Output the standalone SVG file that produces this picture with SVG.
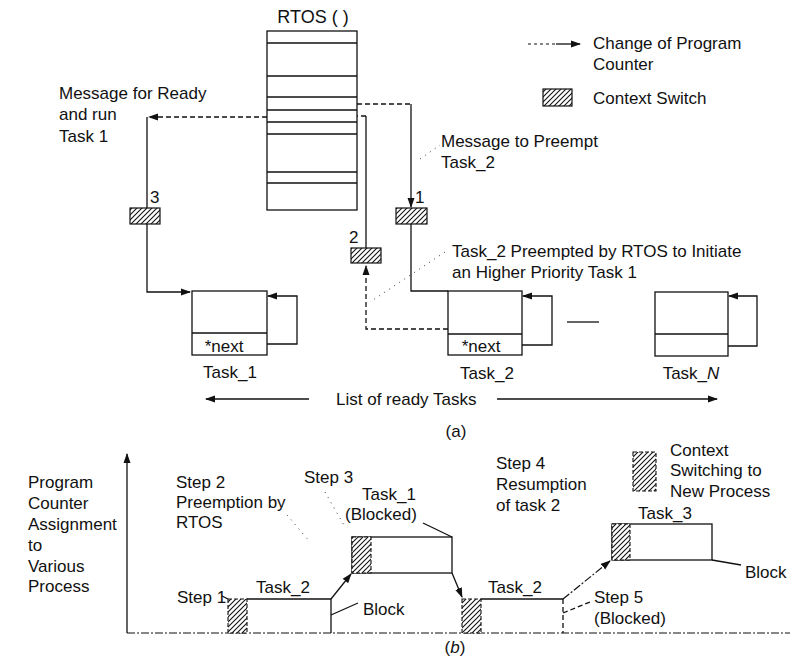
<svg xmlns="http://www.w3.org/2000/svg" width="790" height="664" viewBox="0 0 790 664">
<defs>
<pattern id="hatch" patternUnits="userSpaceOnUse" width="5" height="5">
<rect width="5" height="5" fill="#fff"/>
<path d="M-1,1 l2,-2 M0,5 l5,-5 M4,6 l2,-2" stroke="#111" stroke-width="1.1"/>
</pattern>
<marker id="arr" markerWidth="10" markerHeight="8" refX="9" refY="4" orient="auto" markerUnits="userSpaceOnUse">
<path d="M0,0.5 L10,4 L0,7.5 z" fill="#111"/>
</marker>
<style>
text{font-family:"Liberation Sans",Arial,sans-serif;font-size:17px;fill:#111}
.ln{fill:none;stroke:#111;stroke-width:1.3}
.dash{fill:none;stroke:#111;stroke-width:1.3;stroke-dasharray:5 3}
.ldash{fill:none;stroke:#111;stroke-width:1.1;stroke-dasharray:3 3}
.dot{fill:none;stroke:#333;stroke-width:1;stroke-dasharray:1 5}
.dd{fill:none;stroke:#111;stroke-width:1.2;stroke-dasharray:8 2 2 2}
.box{fill:#fff;stroke:#111;stroke-width:1.3}
.cs{fill:url(#hatch);stroke:#111;stroke-width:1.2}
.csd{fill:url(#hatch);stroke:#111;stroke-width:1.1;stroke-dasharray:4 2}
</style>
</defs>
<rect width="790" height="664" fill="#fff"/>

<g id="rtos">
<text x="313" y="23" text-anchor="middle" style="font-size:18px">RTOS ( )</text>
<rect class="box" x="267" y="31" width="90" height="179"/>
<path class="ln" d="M267,43H357M267,76H357M267,97H357M267,110H357M267,122H357M267,134H357M267,172H357M267,183H357"/>
</g>

<g id="legend-a">
<path class="ldash" d="M528,44H556"/>
<path class="ln" d="M556,44H580" marker-end="url(#arr)"/>
<text x="593" y="49">Change of Program</text>
<text x="593" y="70">Counter</text>
<rect class="cs" x="543" y="89" width="29" height="17"/>
<text x="593" y="104">Context Switch</text>
</g>

<g id="cs3">
<rect class="cs" x="130" y="208" width="30" height="16"/>
<text x="150" y="203">3</text>
</g>
<g id="cs1">
<rect class="cs" x="396" y="208" width="31" height="16"/>
<text x="415" y="203">1</text>
</g>
<g id="cs2">
<rect class="cs" x="351" y="248" width="30" height="15"/>
<text x="349" y="243">2</text>
</g>

<g id="task1">
<rect class="box" x="192" y="291" width="75" height="64"/>
<path class="ln" d="M192,333H267"/>
<text x="224" y="352" text-anchor="middle">*next</text>
<path class="ln" d="M267,344H297V296H268" marker-end="url(#arr)"/>
<text x="230" y="378" text-anchor="middle">Task_1</text>
</g>

<g id="task2">
<rect class="box" x="448" y="291" width="74" height="64"/>
<path class="ln" d="M448,334H522"/>
<text x="481" y="352" text-anchor="middle">*next</text>
<path class="ln" d="M522,345H552V296H523" marker-end="url(#arr)"/>
<text x="487" y="379" text-anchor="middle">Task_2</text>
</g>

<g id="taskN">
<rect class="box" x="655" y="292" width="73" height="64"/>
<path class="ln" d="M655,334H728"/>
<path class="ln" d="M728,346H757V296H729" marker-end="url(#arr)"/>
<text x="691" y="379" text-anchor="middle">Task_<tspan font-style="italic">N</tspan></text>
</g>

<g id="labels-a">
<text x="59" y="99">Message for Ready</text>
<text x="59" y="120">and run</text>
<text x="59" y="142">Task 1</text>
<text x="441" y="147">Message to Preempt</text>
<text x="441" y="168">Task_2</text>
<text x="452" y="257">Task_2 Preempted by RTOS to Initiate</text>
<text x="452" y="278">an Higher Priority Task 1</text>
<path class="ln" d="M567,322H599"/>
<text x="336" y="405">List of ready Tasks</text>
<text x="456" y="437" text-anchor="middle">(a)</text>
</g>

<g id="connectors">
<path class="dash" d="M267,117H149" marker-end="url(#arr)"/>
<path class="ln" d="M147,117V208M147,224V292H190" marker-end="url(#arr)"/>
<path class="dash" d="M357,104H411"/>
<path class="ln" d="M411,104V207" marker-end="url(#arr)"/>
<path class="ln" d="M411,224V291H448"/>
<path class="dash" d="M448,329H366V266" marker-end="url(#arr)"/>
<path class="ln" d="M366,248V116"/>
<path class="dash" d="M366,116H357"/>
<path class="dot" d="M420,159L440,145"/>
<path class="dot" d="M445,252L370,302"/>
<path class="ln" d="M309,399H206" marker-end="url(#arr)"/>
<path class="ln" d="M497,399H717" marker-end="url(#arr)"/>
</g>

<g id="chart-b">
<path class="ln" d="M127,633V454" marker-end="url(#arr)"/>
<path class="dd" d="M127,633H790"/>
<text x="28" y="488">Program</text>
<text x="28" y="509">Counter</text>
<text x="28" y="530">Assignment</text>
<text x="28" y="551">to</text>
<text x="28" y="572">Various</text>
<text x="28" y="592">Process</text>

<g id="blk1">
<path class="ln" d="M247,599H331V633"/>
<rect class="csd" x="228" y="599" width="19" height="34"/>
<text x="256" y="593">Task_2</text>
</g>
<g id="blk2">
<rect class="box" x="352" y="537" width="100" height="36"/>
<rect class="csd" x="352" y="537" width="19" height="36"/>
<text x="362" y="500">Task_1</text>
<text x="345" y="520">(Blocked)</text>
</g>
<g id="blk3">
<path class="ln" d="M481,599H563"/>
<path class="dash" d="M563,599V633"/>
<rect class="csd" x="462" y="599" width="19" height="34"/>
<text x="488" y="593">Task_2</text>
</g>
<g id="blk4">
<rect class="box" x="612" y="524" width="100" height="36"/>
<rect class="csd" x="612" y="524" width="18" height="36"/>
<text x="638" y="519">Task_3</text>
</g>

<g id="connectors-b">
<path class="ln" d="M331,599L351,574" marker-end="url(#arr)"/>
<path class="ln" d="M452,573L462,597" marker-end="url(#arr)"/>
<path class="dd" d="M563,599L610,561" marker-end="url(#arr)"/>
<path class="ln" d="M331,615L358,603"/>
<path class="ln" d="M423,523L452,537"/>
<path class="ln" d="M712,560L741,565"/>
<path class="dash" d="M563,613L590,602"/>
<path class="dot" d="M325,492L345,527"/>
<path class="dot" d="M287,515L310,542"/>
<path class="ln" d="M222,596L228,599"/>
</g>

<text x="176" y="488">Step 2</text>
<text x="176" y="508">Preemption by</text>
<text x="176" y="528">RTOS</text>
<text x="304" y="483">Step 3</text>
<text x="177" y="603">Step 1</text>
<text x="363" y="615">Block</text>
<text x="496" y="469">Step 4</text>
<text x="496" y="490">Resumption</text>
<text x="496" y="511">of task 2</text>
<text x="594" y="603">Step 5</text>
<text x="594" y="624">(Blocked)</text>
<text x="745" y="578">Block</text>

<g id="legend-b">
<rect class="csd" x="633" y="452" width="23" height="39"/>
<text x="670" y="456">Context</text>
<text x="670" y="476">Switching to</text>
<text x="670" y="497">New Process</text>
</g>
<text x="455" y="653" text-anchor="middle">(<tspan font-style="italic">b</tspan>)</text>
</g>
</svg>
